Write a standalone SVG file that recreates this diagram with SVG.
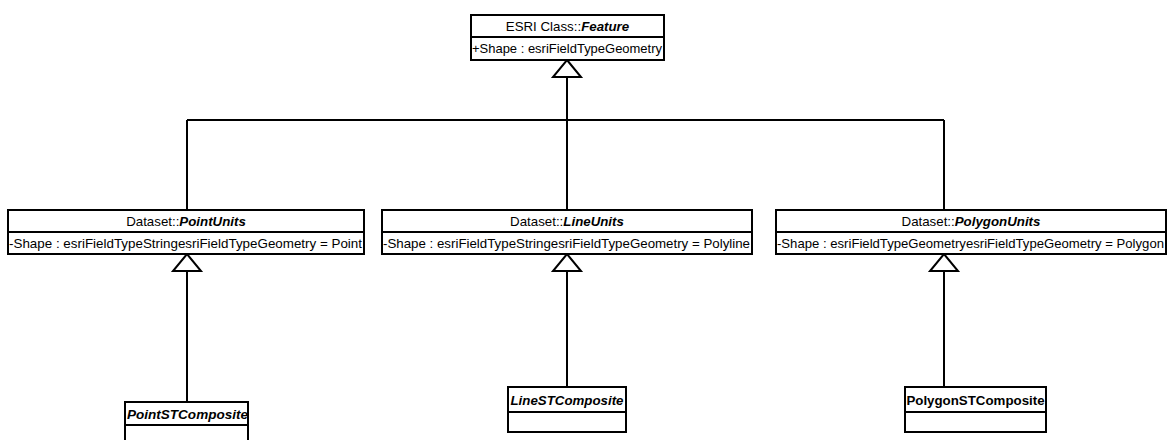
<svg xmlns="http://www.w3.org/2000/svg" width="1172" height="440" viewBox="0 0 1172 440">
  <style>
    .box { fill: #ffffff; stroke: #000000; stroke-width: 2; }
    .sep { stroke: #000000; stroke-width: 2; }
    .edge { fill: none; stroke: #000000; stroke-width: 2; }
    .head { fill: #ffffff; stroke: #000000; stroke-width: 2; stroke-linejoin: miter; }
    text { font-family: "Liberation Sans", Arial, sans-serif; font-size: 13.3px; fill: #000000; }
    .name { font-weight: bold; font-style: italic; }
    .bold { font-weight: bold; }
  </style>

  <rect width="1172" height="440" fill="#ffffff"/>

  <!-- generalization connectors -->
  <g id="connectors">
    <path class="edge" d="M567,77 V120 M187,120 H944 M187,120 V210 M567,120 V210 M944,120 V210"/>
    <path class="edge" d="M187,271 V402 M567,271 V387 M944,271 V387"/>
    <polygon class="head" points="567,60 581,77 553,77"/>
    <polygon class="head" points="187,254 201,271 173,271"/>
    <polygon class="head" points="567,254 581,271 553,271"/>
    <polygon class="head" points="944,254 958,271 930,271"/>
  </g>

  <g id="feature">
    <rect class="box" x="471" y="15" width="193" height="45"/>
    <line class="sep" x1="471" y1="37" x2="664" y2="37"/>
    <text x="567.5" y="31" text-anchor="middle">ESRI Class::<tspan class="name">Feature</tspan></text>
    <text x="472" y="53" textLength="190" lengthAdjust="spacingAndGlyphs">+Shape : esriFieldTypeGeometry</text>
  </g>

  <g id="point-units">
    <rect class="box" x="8" y="210" width="356" height="44"/>
    <line class="sep" x1="8" y1="232" x2="364" y2="232"/>
    <text x="186" y="226" text-anchor="middle">Dataset::<tspan class="name">PointUnits</tspan></text>
    <text x="9" y="248" textLength="353" lengthAdjust="spacingAndGlyphs">-Shape : esriFieldTypeStringesriFieldTypeGeometry = Point</text>
  </g>

  <g id="line-units">
    <rect class="box" x="382" y="210" width="370" height="44"/>
    <line class="sep" x1="382" y1="232" x2="752" y2="232"/>
    <text x="567" y="226" text-anchor="middle">Dataset::<tspan class="name">LineUnits</tspan></text>
    <text x="383" y="248" textLength="367" lengthAdjust="spacingAndGlyphs">-Shape : esriFieldTypeStringesriFieldTypeGeometry = Polyline</text>
  </g>

  <g id="polygon-units">
    <rect class="box" x="776" y="210" width="390" height="44"/>
    <line class="sep" x1="776" y1="232" x2="1166" y2="232"/>
    <text x="971" y="226" text-anchor="middle">Dataset::<tspan class="name">PolygonUnits</tspan></text>
    <text x="777" y="248" textLength="387" lengthAdjust="spacingAndGlyphs">-Shape : esriFieldTypeGeometryesriFieldTypeGeometry = Polygon</text>
  </g>

  <g id="point-st-composite">
    <rect class="box" x="125" y="402" width="123" height="45"/>
    <line class="sep" x1="125" y1="425" x2="248" y2="425"/>
    <text class="name" x="127" y="419" textLength="121" lengthAdjust="spacingAndGlyphs">PointSTComposite</text>
  </g>

  <g id="line-st-composite">
    <rect class="box" x="508" y="387" width="118" height="45"/>
    <line class="sep" x1="508" y1="412" x2="626" y2="412"/>
    <text class="name" x="567" y="405" text-anchor="middle">LineSTComposite</text>
  </g>

  <g id="polygon-st-composite">
    <rect class="box" x="905" y="387" width="141" height="45"/>
    <line class="sep" x1="905" y1="412" x2="1046" y2="412"/>
    <text class="bold" x="975.5" y="405" text-anchor="middle">PolygonSTComposite</text>
  </g>
</svg>
